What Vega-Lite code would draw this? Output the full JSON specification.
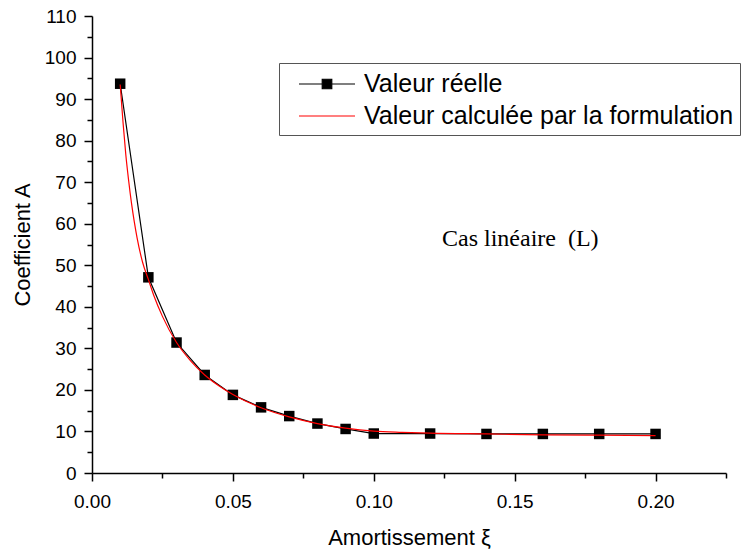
{
  "$schema": "https://vega.github.io/schema/vega-lite/v6.json",
  "width": 634,
  "height": 457,
  "autosize": {"type": "none"},
  "padding": {"left": 92, "top": 16, "right": 16, "bottom": 83},
  "background": "white",
  "config": {
    "view": {"stroke": null},
    "font": "Liberation Sans"
  },
  "data": {
    "values": [
      {"serie": "Valeur réelle", "xi": 0.01, "A": 93.7},
      {"serie": "Valeur réelle", "xi": 0.02, "A": 47.1},
      {"serie": "Valeur réelle", "xi": 0.03, "A": 31.4},
      {"serie": "Valeur réelle", "xi": 0.04, "A": 23.6},
      {"serie": "Valeur réelle", "xi": 0.05, "A": 18.8},
      {"serie": "Valeur réelle", "xi": 0.06, "A": 15.8},
      {"serie": "Valeur réelle", "xi": 0.07, "A": 13.7},
      {"serie": "Valeur réelle", "xi": 0.08, "A": 11.9},
      {"serie": "Valeur réelle", "xi": 0.09, "A": 10.6},
      {"serie": "Valeur réelle", "xi": 0.10, "A": 9.5},
      {"serie": "Valeur réelle", "xi": 0.12, "A": 9.5},
      {"serie": "Valeur réelle", "xi": 0.14, "A": 9.4},
      {"serie": "Valeur réelle", "xi": 0.16, "A": 9.4},
      {"serie": "Valeur réelle", "xi": 0.18, "A": 9.4},
      {"serie": "Valeur réelle", "xi": 0.20, "A": 9.4},
      {"serie": "Valeur calculée par la formulation", "xi": 0.010, "A": 93.5},
      {"serie": "Valeur calculée par la formulation", "xi": 0.011, "A": 84.5},
      {"serie": "Valeur calculée par la formulation", "xi": 0.012, "A": 76.6},
      {"serie": "Valeur calculée par la formulation", "xi": 0.013, "A": 70.4},
      {"serie": "Valeur calculée par la formulation", "xi": 0.014, "A": 65.0},
      {"serie": "Valeur calculée par la formulation", "xi": 0.015, "A": 60.5},
      {"serie": "Valeur calculée par la formulation", "xi": 0.016, "A": 56.6},
      {"serie": "Valeur calculée par la formulation", "xi": 0.018, "A": 50.6},
      {"serie": "Valeur calculée par la formulation", "xi": 0.020, "A": 46.6},
      {"serie": "Valeur calculée par la formulation", "xi": 0.022, "A": 42.6},
      {"serie": "Valeur calculée par la formulation", "xi": 0.025, "A": 37.7},
      {"serie": "Valeur calculée par la formulation", "xi": 0.030, "A": 31.4},
      {"serie": "Valeur calculée par la formulation", "xi": 0.035, "A": 27.0},
      {"serie": "Valeur calculée par la formulation", "xi": 0.040, "A": 23.6},
      {"serie": "Valeur calculée par la formulation", "xi": 0.045, "A": 21.0},
      {"serie": "Valeur calculée par la formulation", "xi": 0.050, "A": 18.9},
      {"serie": "Valeur calculée par la formulation", "xi": 0.060, "A": 15.7},
      {"serie": "Valeur calculée par la formulation", "xi": 0.070, "A": 13.5},
      {"serie": "Valeur calculée par la formulation", "xi": 0.080, "A": 11.9},
      {"serie": "Valeur calculée par la formulation", "xi": 0.090, "A": 10.8},
      {"serie": "Valeur calculée par la formulation", "xi": 0.100, "A": 10.1},
      {"serie": "Valeur calculée par la formulation", "xi": 0.110, "A": 9.8},
      {"serie": "Valeur calculée par la formulation", "xi": 0.120, "A": 9.6},
      {"serie": "Valeur calculée par la formulation", "xi": 0.140, "A": 9.4},
      {"serie": "Valeur calculée par la formulation", "xi": 0.160, "A": 9.2},
      {"serie": "Valeur calculée par la formulation", "xi": 0.180, "A": 9.1},
      {"serie": "Valeur calculée par la formulation", "xi": 0.200, "A": 9.0}
    ]
  },
  "encoding": {
    "x": {
      "field": "xi",
      "type": "quantitative",
      "scale": {"domain": [0, 0.225], "nice": false, "zero": false},
      "axis": {
        "title": "Amortissement ξ",
        "titleFont": "Liberation Sans",
        "titleFontSize": 22,
        "titleFontWeight": "normal",
        "titleColor": "black",
        "titlePadding": 16,
        "values": [0, 0.025, 0.05, 0.075, 0.1, 0.125, 0.15, 0.175, 0.2, 0.225],
        "labelExpr": "abs(datum.value*20 - round(datum.value*20)) < 0.000001 ? format(datum.value, '.2f') : ''",
        "labelFont": "Liberation Sans",
        "labelFontSize": 19,
        "labelColor": "black",
        "labelPadding": 11,
        "labelFlush": false,
        "labelOverlap": false,
        "grid": false,
        "domainColor": "black",
        "domainWidth": 1.5,
        "tickColor": "black",
        "tickWidth": 1.5,
        "tickSize": {"condition": {"test": "abs(datum.value*20 - round(datum.value*20)) < 0.000001", "value": 8}, "value": 5}
      }
    },
    "y": {
      "field": "A",
      "type": "quantitative",
      "scale": {"domain": [0, 110], "nice": false},
      "axis": {
        "title": "Coefficient A",
        "titleFont": "Liberation Sans",
        "titleFontSize": 22,
        "titleFontWeight": "normal",
        "titleColor": "black",
        "titlePadding": 10,
        "values": [0, 5, 10, 15, 20, 25, 30, 35, 40, 45, 50, 55, 60, 65, 70, 75, 80, 85, 90, 95, 100, 105, 110],
        "labelExpr": "datum.value % 10 === 0 ? datum.label : ''",
        "labelFont": "Liberation Sans",
        "labelFontSize": 19,
        "labelColor": "black",
        "labelPadding": 8,
        "labelFlush": false,
        "labelOverlap": false,
        "grid": false,
        "domainColor": "black",
        "domainWidth": 1.5,
        "tickColor": "black",
        "tickWidth": 1.5,
        "tickSize": {"condition": {"test": "datum.value % 10 === 0", "value": 8}, "value": 5}
      }
    }
  },
  "layer": [
    {
      "transform": [{"filter": "datum.serie === 'Valeur réelle'"}],
      "mark": {"type": "line", "strokeWidth": 1.2},
      "encoding": {
        "color": {
          "field": "serie",
          "type": "nominal",
          "scale": {"domain": ["Valeur réelle", "Valeur calculée par la formulation"], "range": ["#000000", "#ff0000"]},
          "legend": {
            "orient": "none",
            "legendX": 187,
            "legendY": 47,
            "title": null,
            "padding": 6,
            "strokeColor": "#555555",
            "fillColor": "white",
            "labelFont": "Liberation Sans",
            "labelFontSize": 25,
            "labelColor": "black",
            "labelLimit": 600,
            "symbolSize": 784,
            "symbolOffset": 27,
            "labelOffset": 22,
            "rowPadding": 4,
            "symbolStrokeWidth": 1.2,
            "encode": {
              "symbols": {
                "update": {
                  "shape": [
                    {"test": "datum.value === 'Valeur réelle'", "value": "M-2,0H-0.34M0.34,0H2M-0.34,-0.34H0.34V0.34H-0.34Z"},
                    {"value": "M-2,0H2"}
                  ],
                  "fill": [
                    {"test": "datum.value === 'Valeur réelle'", "value": "black"},
                    {"value": "transparent"}
                  ]
                }
              }
            }
          }
        }
      }
    },
    {
      "transform": [{"filter": "datum.serie === 'Valeur réelle'"}],
      "mark": {"type": "point", "shape": "square", "filled": true, "size": 110, "color": "black", "opacity": 1}
    },
    {
      "transform": [{"filter": "datum.serie !== 'Valeur réelle'"}],
      "mark": {"type": "line", "strokeWidth": 1.2, "interpolate": "monotone"},
      "encoding": {
        "color": {
          "field": "serie",
          "type": "nominal",
          "scale": {"domain": ["Valeur réelle", "Valeur calculée par la formulation"], "range": ["#000000", "#ff0000"]},
          "legend": {
            "orient": "none",
            "legendX": 187,
            "legendY": 47,
            "title": null,
            "padding": 6,
            "strokeColor": "#555555",
            "fillColor": "white",
            "labelFont": "Liberation Sans",
            "labelFontSize": 25,
            "labelColor": "black",
            "labelLimit": 600,
            "symbolSize": 784,
            "symbolOffset": 27,
            "labelOffset": 22,
            "rowPadding": 4,
            "symbolStrokeWidth": 1.2,
            "encode": {
              "symbols": {
                "update": {
                  "shape": [
                    {"test": "datum.value === 'Valeur réelle'", "value": "M-2,0H-0.34M0.34,0H2M-0.34,-0.34H0.34V0.34H-0.34Z"},
                    {"value": "M-2,0H2"}
                  ],
                  "fill": [
                    {"test": "datum.value === 'Valeur réelle'", "value": "black"},
                    {"value": "transparent"}
                  ]
                }
              }
            }
          }
        }
      }
    },
    {
      "data": {"values": [{"note": "Cas linéaire\u00a0 (L)", "xi": 0.152, "A": 54.7}]},
      "mark": {"type": "text", "font": "Liberation Serif", "fontSize": 24, "color": "black", "align": "center", "baseline": "alphabetic"},
      "encoding": {
        "text": {"field": "note", "type": "nominal"}
      }
    }
  ]
}
